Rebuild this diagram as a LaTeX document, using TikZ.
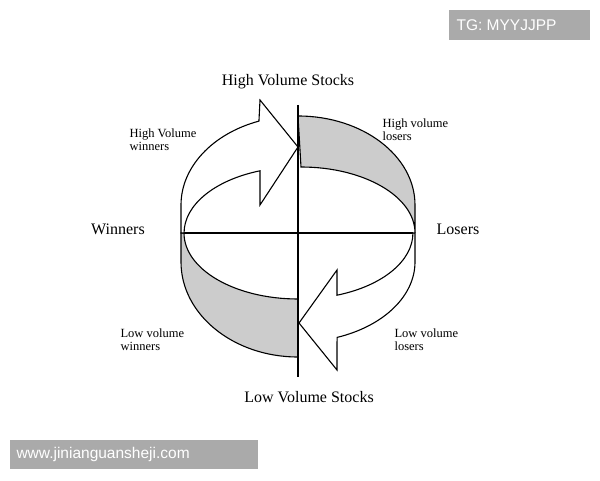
\documentclass[tikz,border=0pt]{standalone}
\usepackage{fontspec}
\setmainfont{Liberation Serif}
\newfontfamily\wmfont{Liberation Sans}
\definecolor{band}{RGB}{204,204,204}
\definecolor{wm}{RGB}{170,170,170}
\begin{document}
\begin{tikzpicture}[x=1pt,y=1pt,line width=1.1pt,
  lbl/.style={font=\fontsize{12.5}{13}\selectfont,align=left,inner sep=0pt},
  big/.style={font=\fontsize{16}{17}\selectfont,inner sep=0pt},
  wmbox/.style={fill=wm,text=white,font=\wmfont\fontsize{15.5}{16}\selectfont,inner sep=0pt,anchor=west}]
\useasboundingbox (0,0) rectangle (600,480);
% gray bands
\draw[fill=band] (298,364) arc[start angle=90,end angle=0,x radius=117,y radius=89]
  -- (415,247) arc[start angle=0,end angle=90,x radius=114,y radius=66] -- cycle;
\draw[fill=band] (181,247) -- (181,218) arc[start angle=180,end angle=270,x radius=117,y radius=95]
  -- (298,181) arc[start angle=270,end angle=180,x radius=114,y radius=66] -- cycle;
% axes
\coordinate (hl) at (184,247); \coordinate (hr) at (413,247);
\coordinate (vt) at (298,375); \coordinate (vb) at (298,103);
\draw (hl) -- (hr);
\draw (vt) -- (vb);
% upper arrow
\draw[fill=white] (181,247) -- (181,275) arc[start angle=180,end angle=109.5,x radius=117,y radius=89]
  -- (260,380) -- (298,333) -- (260,275) -- (260,309.2)
  arc[start angle=109.5,end angle=180,x radius=114,y radius=66] -- cycle;
% lower arrow
\draw[fill=white] (415,247) -- (415,218) arc[start angle=0,end angle=-70.5,x radius=117,y radius=80]
  -- (337,110) -- (299,157) -- (337,210) -- (337,184.8)
  arc[start angle=-70.5,end angle=0,x radius=114,y radius=66] -- cycle;
% labels
\node[big] (hvs) at (288,398) {High Volume Stocks};
\node[big] (lvs) at (309,83) {Low Volume Stocks};
\node[big] (w) at (118,251) {Winners};
\node[big] (l) at (458,251) {Losers};
\node[lbl,anchor=west] (hvw) at (129,340) {High Volume\\winners};
\node[lbl,anchor=west] (hvl) at (382,350) {High volume\\losers};
\node[lbl,anchor=west] (lvw) at (120,140) {Low volume\\winners};
\node[lbl,anchor=west] (lvl) at (394,140) {Low volume\\losers};
% watermarks
\fill[wm] (449,440) rectangle (590,470);
\node[wmbox] (tg) at (456,455) {TG: MYYJJPP};
\fill[wm] (10,11) rectangle (258,40);
\node[wmbox] (www) at (16,25.5) {www.jinianguansheji.com};
\end{tikzpicture}
\end{document}
